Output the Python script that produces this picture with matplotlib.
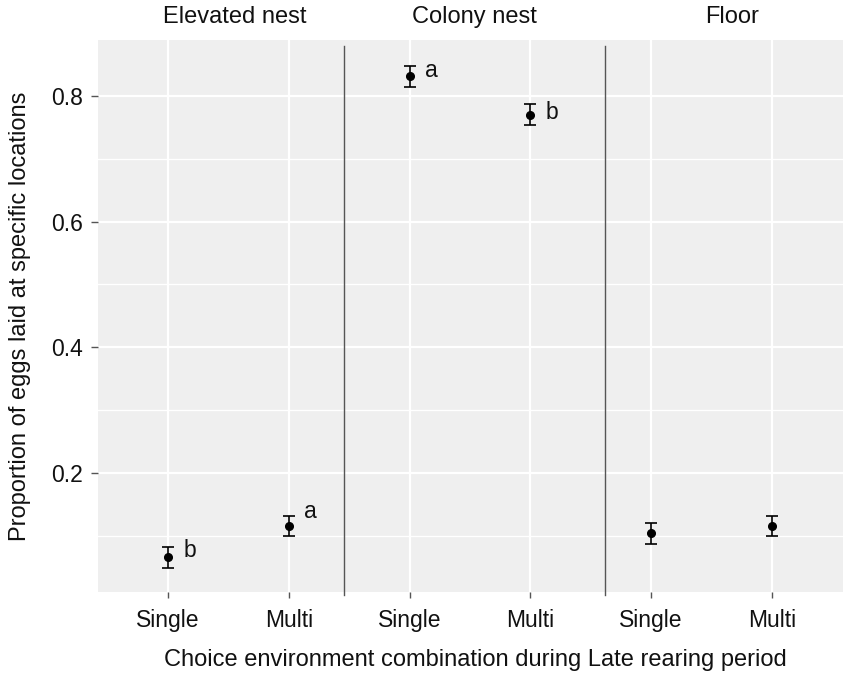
import matplotlib
matplotlib.use("Agg")
import matplotlib.pyplot as plt

plt.rcParams['font.family'] = ['Liberation Sans', 'DejaVu Sans']

# ---- data ----
facets = ["Elevated nest", "Colony nest", "Floor"]
groups = ["Single", "Multi"]
tick_labels = ["Single", "Multi", "Single", "Multi", "Single", "Multi"]
means = [0.066, 0.115, 0.831, 0.770, 0.104, 0.115]
errors = [0.017, 0.016, 0.017, 0.017, 0.017, 0.016]
letters = ["b", "a", "a", "b", "", ""]
letter_y = [0.067, 0.128, 0.830, 0.764, None, None]
y_ticks = [0.2, 0.4, 0.6, 0.8]
y_minor = [0.1, 0.3, 0.5, 0.7]

# ---- layout ----
W, H = 851, 687
fig = plt.figure(figsize=(W / 100, H / 100), dpi=100)
L, R, T, B = 98, 843, 40, 592
ax = fig.add_axes([L / W, (H - B) / H, (R - L) / W, (B - T) / H])
ax.set_facecolor("#EFEFEF")
for s in ax.spines.values():
    s.set_visible(False)

xpos = list(range(len(means)))
ax.set_xlim(-0.58, 5.59)
ax.set_ylim(0.0106, 0.889)

# grid
for yv in y_ticks:
    ax.axhline(yv, color="white", lw=1.6, zorder=0)
for yv in y_minor:
    ax.axhline(yv, color="white", lw=0.9, zorder=0)
for xv in xpos:
    ax.axvline(xv, color="white", lw=1.6, zorder=0)

# facet separators
for xs in [1.457, 3.618]:
    ax.axvline(xs, ymin=-0.006, ymax=0.989, color="#555555", lw=1.0,
               clip_on=False, zorder=1)

ax.errorbar(xpos, means, yerr=errors, fmt="o", color="black", ms=5.5,
            elinewidth=1.2, capsize=4.2, capthick=1.2, zorder=3)

for x, lab, ly in zip(xpos, letters, letter_y):
    if lab:
        ax.annotate(lab, (x, ly), xytext=(11, 0), textcoords="offset points",
                    ha="left", va="baseline", fontsize=16.5, color="#111111")

# facet titles
tr = ax.get_xaxis_transform()
for fx, name in zip([0.555, 2.54, 4.67], facets):
    ax.text(fx, 1.0417, name, transform=tr, ha="center", va="center",
            fontsize=17, color="#111111")

ax.set_xticks(xpos)
ax.set_xticklabels(tick_labels)
ax.set_yticks(y_ticks)
ax.set_yticklabels([f"{v:.1f}" for v in y_ticks])
ax.tick_params(axis="x", length=4, width=1, color="#555555", pad=8,
               labelsize=16.5, labelcolor="#111111")
ax.tick_params(axis="y", length=5, width=1, color="#555555", pad=6,
               labelsize=16.5, labelcolor="#111111")

ax.set_xlabel("Choice environment combination during Late rearing period",
              fontsize=17, color="#111111", va="center")
ax.xaxis.set_label_coords((475 - L) / (R - L), (B - 660) / (B - T))
ax.set_ylabel("Proportion of eggs laid at specific locations",
              fontsize=17, color="#111111", va="center")
ax.yaxis.set_label_coords((20 - L) / (R - L), 0.5)

fig.savefig("out.png", dpi=100, facecolor="white")
